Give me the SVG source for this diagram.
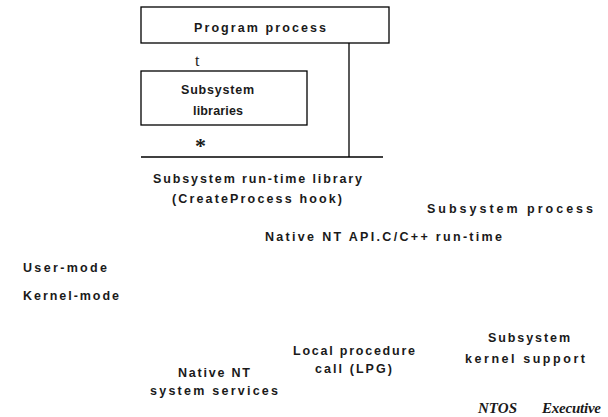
<svg xmlns="http://www.w3.org/2000/svg" width="608" height="417" viewBox="0 0 608 417">
<style>
.box{fill:#fff;stroke:#000;stroke-width:1.3}
.ln{stroke:#000;stroke-width:1.3;fill:none}
.t{font-family:"Liberation Sans",Arial,sans-serif;font-weight:bold;font-size:12.5px;fill:#1a1a1a}
.s{font-family:"Liberation Serif","Times New Roman",serif;fill:#1a1a1a}
.i{font-family:"Liberation Serif","Times New Roman",serif;font-size:15px;font-weight:bold;font-style:italic;fill:#1a1a1a}
</style>
<rect width="608" height="417" fill="#fff"/>
<g id="connectors">
<line class="ln" x1="349" y1="43" x2="349" y2="157"/>
<line class="ln" x1="141" y1="157" x2="383" y2="157"/>
</g>
<g id="program-process">
<rect class="box" x="141" y="7" width="248" height="36"/>
<text class="t" x="194" y="32" textLength="132" lengthAdjust="spacing">Program process</text>
</g>
<g id="subsystem-libraries">
<rect class="box" x="141" y="71" width="166" height="54"/>
<text class="t" x="181" y="94" textLength="73" lengthAdjust="spacing">Subsystem</text>
<text class="t" x="193" y="115" textLength="50" lengthAdjust="spacing">libraries</text>
</g>
<text class="s" x="195" y="66" font-size="16">t</text>
<text class="s" x="195" y="153" font-size="22" font-weight="bold">*</text>
<g id="runtime-library">
<text class="t" x="153" y="183" textLength="209" lengthAdjust="spacing">Subsystem run-time library</text>
<text class="t" x="172" y="203" textLength="170" lengthAdjust="spacing">(CreateProcess hook)</text>
</g>
<g id="subsystem-process">
<text class="t" x="427" y="213" textLength="166" lengthAdjust="spacing">Subsystem process</text>
</g>
<g id="native-api">
<text class="t" x="265" y="241" textLength="237" lengthAdjust="spacing">Native NT API.C/C++ run-time</text>
</g>
<g id="modes">
<text class="t" x="23" y="272" textLength="84" lengthAdjust="spacing">User-mode</text>
<text class="t" x="23" y="300" textLength="96" lengthAdjust="spacing">Kernel-mode</text>
</g>
<g id="kernel-support">
<text class="t" x="488" y="342" textLength="82" lengthAdjust="spacing">Subsystem</text>
<text class="t" x="465" y="363" textLength="120" lengthAdjust="spacing">kernel support</text>
</g>
<g id="lpc">
<text class="t" x="293" y="355" textLength="122" lengthAdjust="spacing">Local procedure</text>
<text class="t" x="315" y="373" textLength="77" lengthAdjust="spacing">call (LPG)</text>
</g>
<g id="native-services">
<text class="t" x="178" y="377" textLength="72" lengthAdjust="spacing">Native NT</text>
<text class="t" x="150" y="395" textLength="128" lengthAdjust="spacing">system services</text>
</g>
<g id="ntos">
<text class="i" x="478" y="413" textLength="39" lengthAdjust="spacing">NTOS</text>
<text class="i" x="542" y="413" font-size="15.5" textLength="59" lengthAdjust="spacing">Executive</text>
</g>
</svg>
